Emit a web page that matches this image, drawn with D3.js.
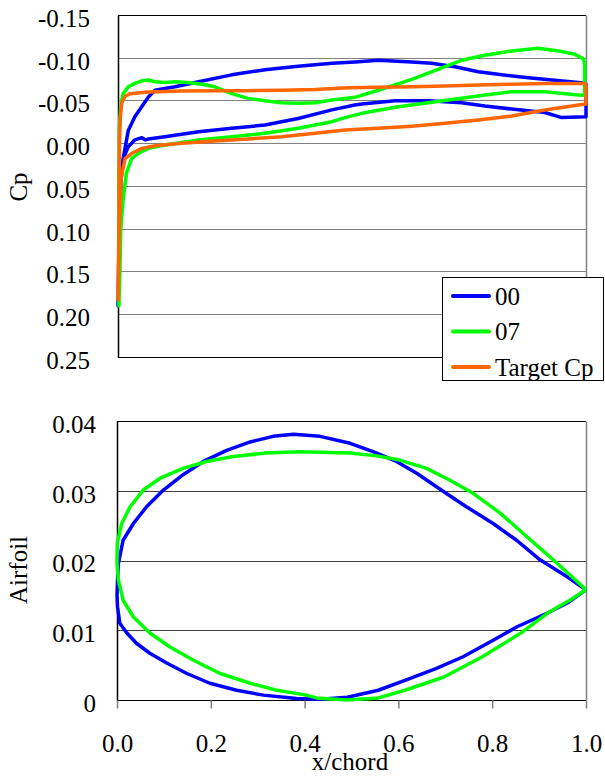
<!DOCTYPE html>
<html>
<head>
<meta charset="utf-8">
<script src="https://cdn.jsdelivr.net/npm/d3@7"></script>
<style>
  html, body { margin: 0; padding: 0; background: #fff; }
  svg { display: block; }
</style>
</head>
<body>
<svg id="chart" width="605" height="776"></svg>
<script>
// --- data: [x/chord, value] ---
var cp00Upper = [[0, 0.19], [0.003, 0.09], [0.006, 0.045], [0.011, 0.018], [0.022, -0.015], [0.036, -0.031],
    [0.051, -0.043], [0.065, -0.054], [0.079, -0.062], [0.1, -0.064], [0.122, -0.066], [0.172, -0.072],
    [0.243, -0.080], [0.314, -0.086], [0.385, -0.090], [0.457, -0.0935], [0.506, -0.095], [0.556, -0.097],
    [0.628, -0.095], [0.670, -0.0935], [0.720, -0.0895], [0.770, -0.0837], [0.820, -0.080], [0.877, -0.0767],
    [0.927, -0.074], [0.984, -0.071], [1.0, -0.070]];
var cp00Lower = [[0, 0.19], [0.003, 0.09], [0.007, 0.04], [0.013, 0.016], [0.022, 0.004], [0.036, -0.004],
    [0.051, -0.0065], [0.058, -0.004], [0.065, -0.005], [0.1, -0.0077], [0.172, -0.0135], [0.243, -0.0175],
    [0.314, -0.0213], [0.385, -0.029], [0.457, -0.039], [0.506, -0.0447], [0.521, -0.046], [0.592, -0.0498],
    [0.663, -0.0498], [0.734, -0.0474], [0.784, -0.0436], [0.841, -0.040], [0.912, -0.036], [0.948, -0.030],
    [1.0, -0.031]];
var cp07Upper = [[0.002, 0.19], [0.002, 0.05], [0.003, -0.02], [0.006, -0.045], [0.011, -0.058], [0.022, -0.066],
    [0.036, -0.070], [0.051, -0.073], [0.065, -0.074], [0.079, -0.072], [0.1, -0.071], [0.122, -0.072],
    [0.15, -0.071], [0.179, -0.069], [0.207, -0.066], [0.243, -0.058], [0.278, -0.0525], [0.314, -0.0498],
    [0.35, -0.0474], [0.385, -0.0467], [0.421, -0.0474], [0.457, -0.0506], [0.506, -0.0537], [0.556, -0.062],
    [0.628, -0.0748], [0.699, -0.0895], [0.734, -0.097], [0.784, -0.103], [0.841, -0.108], [0.898, -0.111],
    [0.941, -0.108], [0.976, -0.104], [0.994, -0.099], [0.997, -0.0935]];
var cp07Lower = [[0.002, 0.19], [0.004, 0.15], [0.006, 0.10], [0.011, 0.066], [0.018, 0.035], [0.029, 0.018],
    [0.043, 0.012], [0.065, 0.006], [0.1, 0.002], [0.172, -0.0038], [0.243, -0.0077], [0.314, -0.0116],
    [0.385, -0.0175], [0.457, -0.0252], [0.485, -0.030], [0.521, -0.035], [0.592, -0.042], [0.663, -0.0474],
    [0.734, -0.0526], [0.784, -0.0564], [0.841, -0.0603], [0.912, -0.0603], [0.984, -0.0564], [0.997, -0.056]];
var cpTargetUpper = [[0, 0.183], [0.002, 0.10], [0.003, 0.0], [0.005, -0.03], [0.008, -0.047], [0.015, -0.055],
    [0.026, -0.058], [0.065, -0.060], [0.136, -0.061], [0.207, -0.0615], [0.278, -0.0615], [0.35, -0.062],
    [0.421, -0.063], [0.492, -0.065], [0.556, -0.0655], [0.628, -0.066], [0.699, -0.067], [0.770, -0.068],
    [0.841, -0.069], [0.912, -0.070], [0.984, -0.070], [1.0, -0.070]];
var cpTargetLower = [[0, 0.183], [0.003, 0.10], [0.007, 0.04], [0.015, 0.018], [0.029, 0.012], [0.051, 0.006],
    [0.079, 0.003], [0.136, 0.0], [0.207, -0.0026], [0.278, -0.005], [0.35, -0.0077], [0.421, -0.0116],
    [0.485, -0.0155], [0.556, -0.0175], [0.628, -0.020], [0.699, -0.0233], [0.770, -0.0272], [0.841, -0.0318],
    [0.912, -0.039], [0.984, -0.0447], [1.0, -0.046]];

var foil00Upper = [[0, 0.015], [0.001, 0.017], [0.003, 0.0196], [0.013, 0.0229], [0.035, 0.0253], [0.063, 0.0277],
    [0.099, 0.0301], [0.141, 0.0323], [0.184, 0.0342], [0.234, 0.0358], [0.284, 0.0370], [0.333, 0.0378],
    [0.376, 0.0381], [0.433, 0.0378], [0.497, 0.0368], [0.546, 0.0356], [0.596, 0.0342], [0.639, 0.0325],
    [0.696, 0.0299], [0.745, 0.0277], [0.802, 0.0253], [0.852, 0.0229], [0.902, 0.0201], [0.959, 0.0177],
    [1.0, 0.0158]];
var foil00Lower = [[0, 0.015], [0.001, 0.0134], [0.006, 0.011], [0.021, 0.0096], [0.042, 0.0081], [0.070, 0.0067],
    [0.106, 0.0053], [0.149, 0.0038], [0.198, 0.0024], [0.255, 0.0014], [0.312, 0.0007], [0.383, 0.0002],
    [0.433, 0.0001], [0.491, 0.0004], [0.557, 0.0014], [0.614, 0.0028], [0.68, 0.0045], [0.738, 0.0062],
    [0.803, 0.0086], [0.853, 0.0105], [0.919, 0.0125], [0.96, 0.0139], [1.0, 0.0158]];
var foil07Upper = [[0, 0.0196], [0.0006, 0.0225], [0.010, 0.0253], [0.028, 0.0277], [0.056, 0.0301], [0.092, 0.0318],
    [0.141, 0.0332], [0.191, 0.0342], [0.248, 0.0349], [0.317, 0.0354], [0.390, 0.0356], [0.497, 0.0354],
    [0.554, 0.035], [0.603, 0.0344], [0.660, 0.0332], [0.710, 0.0315], [0.760, 0.0296], [0.817, 0.0268],
    [0.874, 0.0234], [0.930, 0.0201], [0.994, 0.0162], [1.0, 0.0158]];
var foil07Lower = [[0, 0.0196], [0.003, 0.0172], [0.013, 0.0143], [0.035, 0.0119], [0.070, 0.0096], [0.113, 0.0076],
    [0.163, 0.0057], [0.220, 0.0038], [0.284, 0.0024], [0.341, 0.0014], [0.404, 0.0007], [0.425, 0.0003],
    [0.491, 0.0], [0.557, 0.0003], [0.614, 0.0014], [0.697, 0.0033], [0.779, 0.0062], [0.861, 0.0096],
    [0.919, 0.0125], [0.968, 0.0144], [1.0, 0.0158]];

var seriesNames = ['00', '07', 'Target Cp'];
var seriesColors = ['#0000FF', '#00FF00', '#FF6600'];
var cpTicks = [-0.15, -0.10, -0.05, 0, 0.05, 0.10, 0.15, 0.20, 0.25];
var foilTicks = [0, 0.01, 0.02, 0.03, 0.04];
var chordTicks = [0, 0.2, 0.4, 0.6, 0.8, 1.0];

// --- layout ---
var FONT = 25;
var FAMILY = '"Liberation Serif", "Times New Roman", serif';
var LINE_W = 3.5;
var svg = d3.select('#chart')
    .attr('font-family', FAMILY);

var xCp = d3.scaleLinear().domain([0, 1]).range([118, 586]);
var yCp = d3.scaleLinear().domain([-0.15, 0.25]).range([15, 357]);
var xFoil = d3.scaleLinear().domain([0, 1]).range([117, 586]);
var yFoil = d3.scaleLinear().domain([0, 0.04]).range([700, 421]);

// upper surface from trailing edge to the nose, lower back to the trailing edge, then closed
function loop(upper, lower) {
    return upper.slice().reverse().concat(lower, [upper[upper.length - 1]]);
}

function drawFrame(g, x, y, ticks, gridColor) {
    var x0 = x.range()[0], x1 = x.range()[1];
    var inner = ticks.slice(1, -1);
    g.selectAll('line.grid')
        .data(inner)
        .enter()
        .append('line')
        .attr('x1', x0).attr('x2', x1)
        .attr('y1', function(d) { return Math.round(y(d)) + 0.5; })
        .attr('y2', function(d) { return Math.round(y(d)) + 0.5; })
        .attr('stroke', gridColor);

    var yTop = Math.round(d3.min(y.range())) + 0.5;
    var yBot = Math.round(d3.max(y.range())) + 0.5;
    g.append('line').attr('x1', x0).attr('x2', x1).attr('y1', yTop).attr('y2', yTop).attr('stroke', '#000');
    g.append('line').attr('x1', x1 + 0.5).attr('x2', x1 + 0.5).attr('y1', yTop).attr('y2', yBot)
        .attr('stroke', '#808080').attr('stroke-width', 1.5);
    g.append('line').attr('x1', x0).attr('x2', x1).attr('y1', yBot).attr('y2', yBot).attr('stroke', '#000');
    g.append('line').attr('x1', x0 + 0.5).attr('x2', x0 + 0.5).attr('y1', yTop).attr('y2', yBot)
        .attr('stroke', '#000').attr('stroke-width', 1.5);
}

function drawYAxis(g, x, y, ticks, padding, format) {
    var axis = d3.axisLeft(y).tickValues(ticks).tickSize(0).tickPadding(padding).tickFormat(format);
    var a = g.append('g')
        .attr('transform', 'translate(' + x.range()[0] + ',0)')
        .call(axis)
        .attr('font-family', FAMILY)
        .attr('font-size', FONT);
    a.select('.domain').remove();
    a.selectAll('text')
        .attr('fill', '#000')
        .attr('dy', '0.45em');
}

function drawSeries(g, x, y, loops) {
    var line = d3.line()
        .x(function(d) { return x(d[0]); })
        .y(function(d) { return y(d[1]); });
    g.selectAll('path.series')
        .data(loops)
        .enter()
        .append('path')
        .attr('d', line)
        .attr('fill', 'none')
        .attr('stroke', function(d, i) { return seriesColors[i]; })
        .attr('stroke-width', LINE_W)
        .attr('stroke-linejoin', 'round');
}

function yTitle(text, cx, cy) {
    svg.append('text')
        .attr('transform', 'translate(' + cx + ',' + cy + ') rotate(-90)')
        .attr('text-anchor', 'middle')
        .attr('font-size', FONT)
        .text(text);
}

// --- Cp chart ---
var cpChart = svg.append('g');
drawFrame(cpChart, xCp, yCp, cpTicks, '#808080');
drawYAxis(cpChart, xCp, yCp, cpTicks, 28, function(d) { return d.toFixed(2); });
drawSeries(cpChart, xCp, yCp, [
    loop(cp00Upper, cp00Lower),
    loop(cp07Upper, cp07Lower),
    loop(cpTargetUpper, cpTargetLower)
]);
yTitle('Cp', 27, 187);

// legend
var legend = svg.append('g');
legend.append('rect')
    .attr('x', 442.5).attr('y', 277.5).attr('width', 161).attr('height', 103)
    .attr('fill', '#fff').attr('stroke', '#000');
seriesNames.forEach(function(name, i) {
    var ly = 296 + i * 35.5;
    legend.append('line')
        .attr('x1', 453).attr('x2', 489).attr('y1', ly).attr('y2', ly)
        .attr('stroke', seriesColors[i]).attr('stroke-width', 4).attr('stroke-linecap', 'round');
    legend.append('text')
        .attr('x', 495).attr('y', ly).attr('dy', '0.35em')
        .attr('font-size', FONT)
        .text(name);
});

// --- airfoil chart ---
var foilChart = svg.append('g');
drawFrame(foilChart, xFoil, yFoil, foilTicks, '#404040');
drawYAxis(foilChart, xFoil, yFoil, foilTicks, 21, function(d) { return d === 0 ? '0' : d.toFixed(2); });
drawSeries(foilChart, xFoil, yFoil, [
    loop(foil00Upper, foil00Lower),
    loop(foil07Upper, foil07Lower)
]);

var xAxis = foilChart.append('g')
    .attr('transform', 'translate(0,' + (Math.round(yFoil(0)) + 0.5) + ')')
    .call(d3.axisBottom(xFoil).tickValues(chordTicks).tickSize(8).tickPadding(26)
        .tickFormat(function(d) { return d.toFixed(1); }))
    .attr('font-family', FAMILY)
    .attr('font-size', FONT);
xAxis.select('.domain').remove();
xAxis.selectAll('line').attr('stroke', '#808080').attr('stroke-width', 1.5);
xAxis.selectAll('text').attr('fill', '#000');

svg.append('text')
    .attr('x', 350).attr('y', 770)
    .attr('text-anchor', 'middle')
    .attr('font-size', FONT)
    .text('x/chord');
yTitle('Airfoil', 27, 570);
</script>
</body>
</html>
